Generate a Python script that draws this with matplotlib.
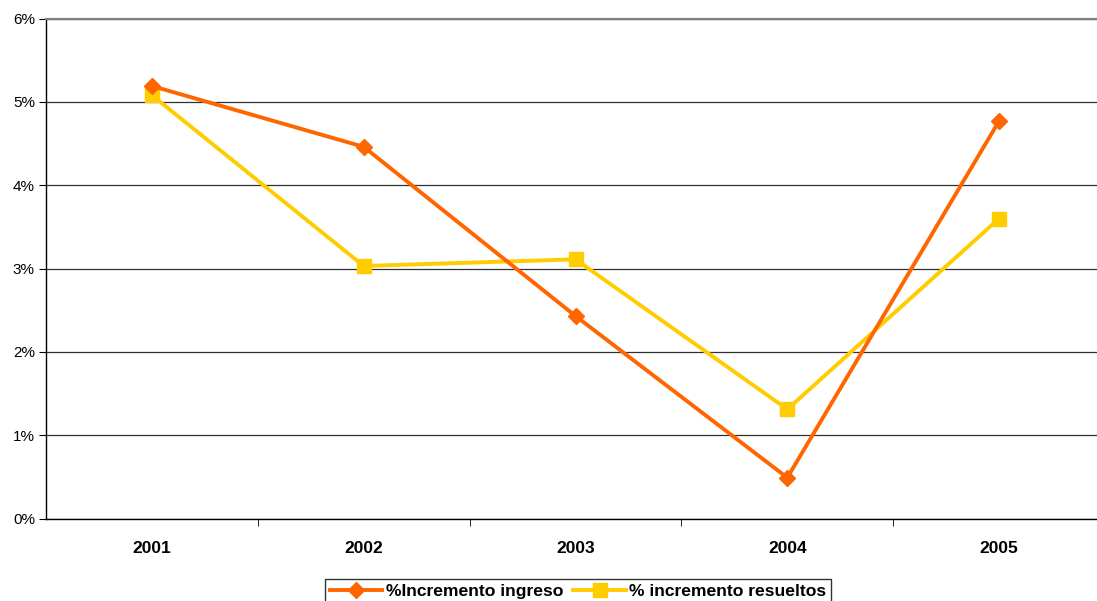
import matplotlib
matplotlib.use("Agg")
import matplotlib.pyplot as plt
from matplotlib.ticker import FuncFormatter

years = ["2001", "2002", "2003", "2004", "2005"]
ingreso = [5.19, 4.46, 2.43, 0.49, 4.77]
resueltos = [5.08, 3.03, 3.11, 1.31, 3.60]
yticks = [0, 1, 2, 3, 4, 5, 6]

plt.rcParams['font.family'] = ['Liberation Sans', 'DejaVu Sans']
fig = plt.figure(figsize=(10.97, 6.01), dpi=100)
ax = fig.add_axes([46/1097, (601-518.5)/601, 1059/1097, 500/601])

x = list(range(len(years)))
ax.plot(x, ingreso, color="#FF6600", lw=2.8, marker="D", ms=8, label="%Incremento ingreso", zorder=4)
ax.plot(x, resueltos, color="#FFCC00", lw=2.8, marker="s", ms=10, label="% incremento resueltos", zorder=3)

ax.set_xlim(-0.5, 4.5)
ax.set_ylim(0, 6)
ax.set_yticks(yticks)
ax.yaxis.set_major_formatter(FuncFormatter(lambda v, p: f"{int(v)}%"))
ax.set_xticks(x)
ax.set_xticklabels(years, fontsize=12.5, fontweight="bold")
ax.set_xticks([i + 0.5 for i in x[:-1]], minor=True)
ax.tick_params(axis="x", which="major", length=0, pad=16)
ax.tick_params(axis="x", which="minor", length=5, direction="out", color="black")
ax.tick_params(axis="y", length=5, direction="out", labelsize=11, pad=3)
ax.grid(axis="y", color="#303030", lw=0.9, zorder=0)
ax.set_axisbelow(True)
ax.spines["right"].set_visible(False)
ax.spines["top"].set_color("#808080")
ax.spines["top"].set_linewidth(1.6)
ax.spines["left"].set_linewidth(1.0)
ax.spines["bottom"].set_linewidth(1.0)

leg = fig.legend(loc="lower center", bbox_to_anchor=(578/1097, -0.018), ncol=2,
                 frameon=True, fancybox=False, edgecolor="black", borderpad=0.25,
                 handlelength=3.0, handletextpad=0.2, columnspacing=0.6,
                 prop={"size": 12.6, "weight": "bold"})
leg.get_frame().set_linewidth(1.0)

fig.savefig("out.png", dpi=100)
